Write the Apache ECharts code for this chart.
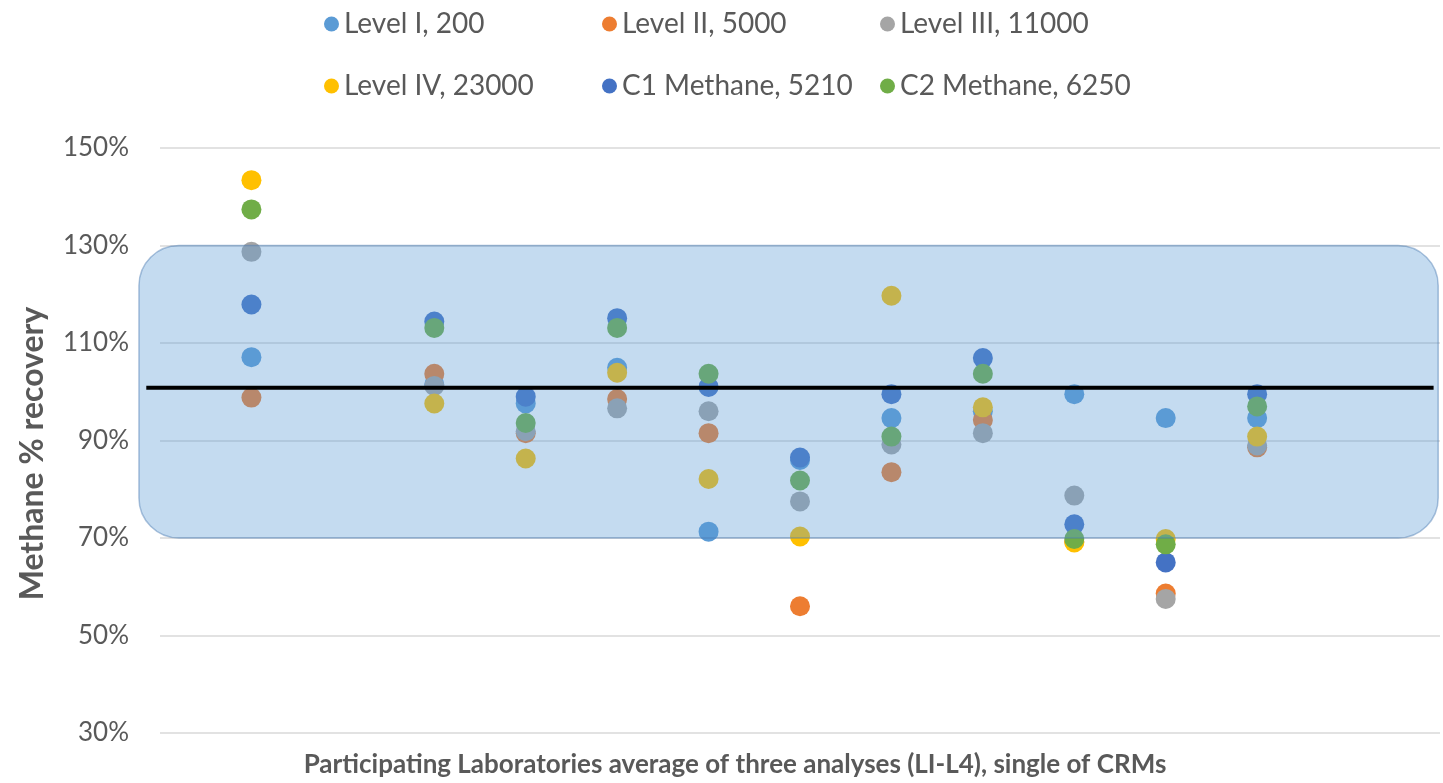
<!DOCTYPE html>
<html>
<head>
<meta charset="utf-8">
<script src="https://cdn.jsdelivr.net/npm/echarts@6/dist/echarts.min.js"></script>
<style>
html,body{margin:0;padding:0;background:#fff;overflow:hidden;}
#chart{width:1443px;height:783px;}
</style>
</head>
<body>
<div id="chart"></div>
<script>
// Laboratory positions along the (hidden) x axis; position 2 is empty
const labPositions = [1, 3, 4, 5, 6, 7, 8, 9, 10, 11, 12];
const seriesNames = ["Level I, 200", "Level II, 5000", "Level III, 11000", "Level IV, 23000", "C1 Methane, 5210", "C2 Methane, 6250"];
const levelI   = [107.1, 101.5, 97.6, 104.9, 71.3, 86.0, 94.6, 96.0, 99.5, 94.6, 94.6];
const levelII  = [98.8, 103.7, 91.5, 98.5, 91.5, 56.0, 83.5, 94.2, 69.3, 58.6, 88.6];
const levelIII = [128.7, 101.2, 91.9, 96.6, 96.0, 77.5, 89.2, 91.5, 78.7, 57.5, 89.0];
const levelIV  = [143.4, 97.6, 86.3, 103.9, 82.1, 70.3, 119.7, 96.8, 69.1, 69.8, 90.8];
const c1Methane = [117.9, 114.4, 99.0, 115.1, 101.0, 86.5, 99.5, 106.9, 72.8, 65.0, 99.5];
const c2Methane = [137.4, 113.1, 93.6, 113.1, 103.7, 81.8, 90.8, 103.7, 69.8, 68.7, 97.0];
// Acceptance band (70% - 130%) and mean recovery line
const bandRange = [70, 130];
const bandXRange = [-0.23, 13.98];
const meanRecovery = 100.8;
const meanXRange = [-0.15, 13.93];
const yTicks = [30, 50, 70, 90, 110, 130, 150];

const colors = ["#5B9BD5", "#ED7D31", "#A5A5A5", "#FFC000", "#4472C4", "#70AD47"];
const allValues = [levelI, levelII, levelIII, levelIV, c1Methane, c2Methane];
const FONT = "Lato";

const scatterSeries = allValues.map((vals, i) => ({
  name: seriesNames[i],
  type: "scatter",
  symbol: "circle",
  symbolSize: 20,
  itemStyle: { color: colors[i], opacity: 1 },
  z: 2,
  data: labPositions.map((x, j) => [x, vals[j]])
}));

const option = {
  animation: false,
  textStyle: { fontFamily: FONT },
  grid: { left: 160, width: 1280, top: 148, height: 591, containLabel: false },
  legend: {
    data: seriesNames,
    left: 319,
    top: -3,
    width: 900,
    icon: "circle",
    itemWidth: 15,
    itemHeight: 15,
    itemGap: 18,
    textStyle: { fontFamily: FONT, fontSize: 28, color: "#595959", width: 240, lineHeight: 44 }
  },
  xAxis: {
    type: "value",
    min: 0,
    max: 14,
    axisLine: { show: false },
    axisTick: { show: false },
    axisLabel: { show: false },
    splitLine: { show: false },
    name: "Participating Laboratories average of three analyses (LI-L4), single of CRMs",
    nameLocation: "middle",
    nameGap: 19,
    nameTextStyle: { fontFamily: FONT, fontWeight: "bold", fontSize: 26, color: "#595959", padding: [0, 130, 0, 0] }
  },
  yAxis: {
    type: "value",
    min: yTicks[0],
    max: yTicks[yTicks.length - 1],
    interval: 20,
    axisLine: { show: false },
    axisTick: { show: false },
    axisLabel: { formatter: v => v + "%", fontFamily: FONT, fontSize: 26, color: "#595959", margin: 31 },
    splitLine: { lineStyle: { color: "#D9D9D9", width: 1.5 } },
    name: "Methane % recovery",
    nameLocation: "middle",
    nameGap: 111,
    nameTextStyle: { fontFamily: FONT, fontWeight: "bold", fontSize: 32, color: "#595959", padding: [0, 26, 0, 0] }
  },
  series: [
    ...scatterSeries,
    {
      type: "custom",
      name: "band",
      z: 3,
      silent: true,
      clip: false,
      data: [[bandXRange[0], bandRange[0], bandXRange[1], bandRange[1]]],
      renderItem: function (params, api) {
        const p1 = api.coord([api.value(0), api.value(3)]);
        const p2 = api.coord([api.value(2), api.value(1)]);
        return {
          type: "rect",
          shape: { x: p1[0], y: p1[1], width: p2[0] - p1[0], height: p2[1] - p1[1], r: 40 },
          style: { fill: "rgba(91,155,213,0.36)", stroke: "rgba(70,120,175,0.45)", lineWidth: 1.5 }
        };
      }
    },
    {
      type: "custom",
      name: "mean",
      z: 4,
      silent: true,
      clip: false,
      data: [[meanXRange[0], meanXRange[1], meanRecovery]],
      renderItem: function (params, api) {
        const a = api.coord([api.value(0), api.value(2)]);
        const b = api.coord([api.value(1), api.value(2)]);
        return {
          type: "line",
          shape: { x1: a[0], y1: a[1], x2: b[0], y2: b[1] },
          style: { stroke: "#000000", lineWidth: 4 }
        };
      }
    }
  ]
};

const chart = echarts.init(document.getElementById("chart"), null, { renderer: "canvas" });
chart.setOption(option);
</script>
</body>
</html>
